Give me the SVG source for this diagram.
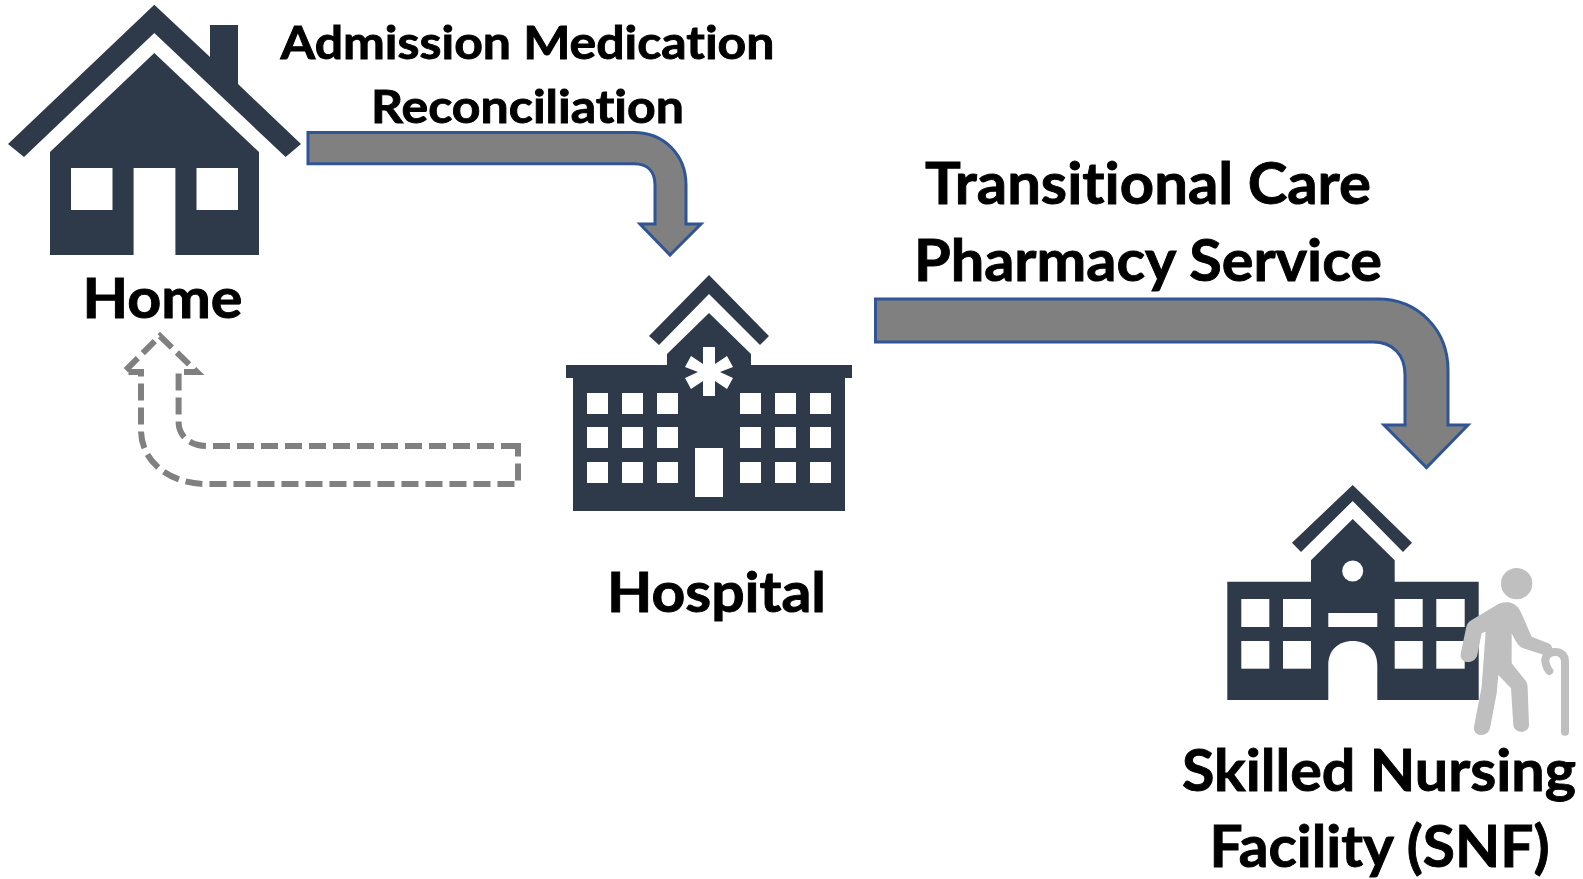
<svg xmlns="http://www.w3.org/2000/svg" width="1583" height="879" viewBox="0 0 1583 879">
<style>
.ic{fill:#2e3a4a}
.w{fill:#fff}
.t{font-family:"Lato","Liberation Sans",sans-serif;font-weight:700;fill:#000;stroke:#000;stroke-width:.9;font-variant-ligatures:none}
.a{fill:#808080;stroke:#2f5597;stroke-width:3;stroke-linejoin:miter}
.d{fill:#fff;stroke:#808080;stroke-width:6;stroke-dasharray:17 7}
.p{fill:#bfbfbf}
</style>
<rect width="1583" height="879" fill="#fff"/>
<g id="connectors">
<path class="a" d="M308 132.500H634C664 132.500 686 155 686 185V224H701L670 255 640 224H655V185C655 172 648 163.700 634 163.700H308Z"/>
<path class="a" d="M875.500 299H1378C1418 299 1448 330 1448 370V425H1468L1426.500 467.500 1384 425H1405V375C1405 355 1393 342 1373 342H875.500Z"/>
<path class="d" d="M518 446H207C190 446 178.600 436 178.600 422V372H197L160 336 124 372H141V430C141 462 170 484 207 484H518Z"/>
</g>
<g id="home">
<path class="ic" d="M154.300 4.700 210 57V25H238V84L301 144 285.600 157 154.300 33 24 157 8 144Z"/>
<path class="ic" fill-rule="evenodd" d="M154.300 53 259 152V255H175.400V168H133.600V255H50V152ZM71 168V210H112.500V168ZM196.500 168V210H238V168Z"/>
<text class="t" x="82.500" y="317.500" font-size="55" textLength="160" lengthAdjust="spacingAndGlyphs">Home</text>
</g>
<g id="hospital">
<path class="ic" d="M709 275 769 336 760 345 709 294 659 345 649 336Z"/>
<path class="ic" d="M709 313 751 354V365H852V378H845V511H573V378H566V365H667V354Z"/>
<path class="w" d="M703 347H715V364L727 356 733 367 720 372 733 378 727 389 715 381V396H703V381L691 389 685 378 698 372 685 367 691 356 703 364Z"/>
<g class="w">
<rect x="587" y="393" width="21" height="21"/><rect x="622" y="393" width="21" height="21"/><rect x="657" y="393" width="21" height="21"/><rect x="740" y="393" width="21" height="21"/><rect x="775" y="393" width="21" height="21"/><rect x="810" y="393" width="21" height="21"/>
<rect x="587" y="427" width="21" height="21"/><rect x="622" y="427" width="21" height="21"/><rect x="657" y="427" width="21" height="21"/><rect x="740" y="427" width="21" height="21"/><rect x="775" y="427" width="21" height="21"/><rect x="810" y="427" width="21" height="21"/>
<rect x="587" y="462" width="21" height="21"/><rect x="622" y="462" width="21" height="21"/><rect x="657" y="462" width="21" height="21"/><rect x="740" y="462" width="21" height="21"/><rect x="775" y="462" width="21" height="21"/><rect x="810" y="462" width="21" height="21"/>
<rect x="695" y="448" width="28" height="49"/>
</g>
<text class="t" x="607" y="611.700" font-size="56" textLength="219" lengthAdjust="spacingAndGlyphs">Hospital</text>
</g>
<g id="snf">
<path class="ic" d="M1352.700 485 1412 542.700 1403 552 1352.700 501 1301 552 1292 542.700Z"/>
<path class="ic" d="M1352.700 519 1394.700 560.300V581.700H1478.700V700H1377.300V665C1377.300 650 1367 641 1352.700 641S1328.300 650 1328.300 665V700H1227.300V581.700H1311V560.300Z"/>
<circle class="w" cx="1352.700" cy="571" r="10.500"/>
<g class="w">
<rect x="1241.300" y="599" width="28" height="28"/><rect x="1283" y="599" width="28" height="28"/><rect x="1394.700" y="599" width="28" height="28"/><rect x="1436.300" y="599" width="28.400" height="28"/>
<rect x="1241.300" y="641" width="28" height="27.700"/><rect x="1283" y="641" width="28" height="27.700"/><rect x="1394.700" y="641" width="28" height="27.700"/><rect x="1436.300" y="641" width="28.400" height="27.700"/>
<rect x="1328.300" y="613" width="49" height="14"/>
</g>
<g transform="translate(1180 400) scale(.33333)">
<circle class="p" cx="1010" cy="551" r="47"/>
<path class="p" d="M945 618C965 603 1005 598 1022 635L1055 710 1105 730C1125 738 1118 772 1095 766L1030 745C1015 740 1008 725 995 700V790L1035 840C1042 848 1043 855 1043 865L1047 975C1047 1002 1002 1002 1000 975L993 865 955 825 950 880 930 985C922 1015 878 1010 882 980L905 860 917 695 905 700 892 765C885 795 838 792 842 762L858 685C860 672 865 665 875 660Z"/>
<path d="M1155 995V785C1155 765 1142 756 1125 756C1105 756 1092 770 1097 790C1100 802 1105 810 1108 813" fill="none" stroke="#bfbfbf" stroke-width="24" stroke-linecap="round"/>
</g>
<text class="t" x="1182" y="791" font-size="58" textLength="394" lengthAdjust="spacingAndGlyphs">Skilled Nursing</text>
<text class="t" x="1209.500" y="867" font-size="58" textLength="340" lengthAdjust="spacingAndGlyphs">Facility (SNF)</text>
</g>
<g id="labels">
<text class="t" x="280.500" y="59" font-size="46.500" textLength="494" lengthAdjust="spacingAndGlyphs">Admission Medication</text>
<text class="t" x="371" y="123" font-size="46.500" textLength="313" lengthAdjust="spacingAndGlyphs">Reconciliation</text>
<text class="t" x="925" y="204" font-size="58" textLength="446" lengthAdjust="spacingAndGlyphs">Transitional Care</text>
<text class="t" x="914" y="281" font-size="58" textLength="468" lengthAdjust="spacingAndGlyphs">Pharmacy Service</text>
</g>
</svg>
